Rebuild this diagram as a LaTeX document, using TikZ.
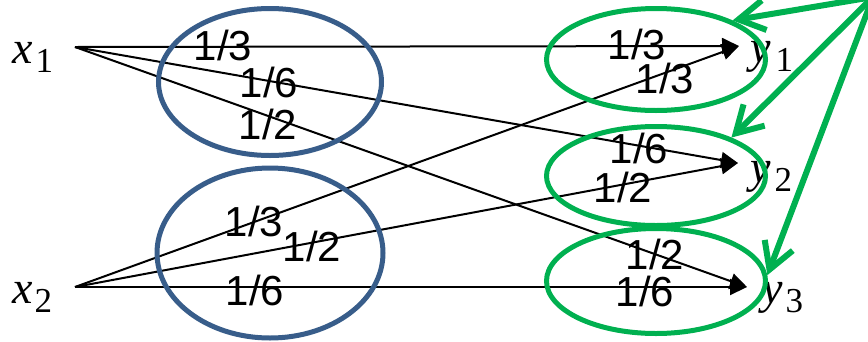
\documentclass[tikz,border=0pt]{standalone}
\usepackage{fontspec}
\setmainfont{Liberation Serif}
\newfontfamily\arialfont{Liberation Sans}
\usepackage{xcolor}
\usetikzlibrary{arrows.meta, shapes.geometric}
\definecolor{setblue}{HTML}{385D8A}
\definecolor{setgreen}{HTML}{00B050}
\newcommand{\symlab}[3]{{\fontsize{46}{46}\selectfont\itshape #1}\kern#3\raisebox{-9.5pt}{\fontsize{35}{35}\selectfont #2}}

\begin{document}
\begin{tikzpicture}[
  x=1pt, y=-1pt,
  wt/.style={font={\arialfont\fontsize{42}{42}\selectfont}, inner sep=0pt},
  sym/.style={inner sep=0pt, anchor=base west},
  edge/.style={-{Triangle[length=17pt,width=16pt]}, line width=2pt},
  grpx/.style={ellipse, draw=setblue, line width=5pt, inner sep=0pt},
  grpy/.style={ellipse, draw=setgreen, line width=5pt, inner sep=0pt},
  garrow/.style={-{Straight Barb[length=26pt,width=30pt]}, line width=6pt, setgreen}
]
\useasboundingbox (0,0) rectangle (868,341);

% 输入、输出符号
\node[sym] (x1) at (12,63) {\symlab{x}{1}{3pt}};
\node[sym] (x2) at (12,303) {\symlab{x}{2}{2pt}};
\node[sym] (y1) at (750,62) {\symlab{y}{1}{5pt}};
\node[sym] (y2) at (750,182) {\symlab{y}{2}{4pt}};
\node[sym] (y3) at (762,303) {\symlab{y}{3}{3pt}};

\coordinate (p1) at (75,47);
\coordinate (p2) at (75,287);
\coordinate (q1) at (739,46);
\coordinate (q2) at (738,163);
\coordinate (q3) at (747,287);

% 转移概率
\draw[edge] (p1) -- (q1);
\draw[edge] (p1) -- (q2);
\draw[edge] (p1) -- (q3);
\draw[edge] (p2) -- (q1);
\draw[edge] (p2) -- (q2);
\draw[edge] (p2) -- (q3);

\node[wt] (a11) at (223,45) {1/3};
\node[wt] (a12) at (269,82) {1/6};
\node[wt] (a13) at (268,124) {1/2};
\node[wt] (a21) at (254,221) {1/3};
\node[wt] (a22) at (312,246) {1/2};
\node[wt] (a23) at (255,290) {1/6};
\node[wt] (b11) at (637,44) {1/3};
\node[wt] (b21) at (665,78) {1/3};
\node[wt] (b12) at (639,148) {1/6};
\node[wt] (b22) at (623,187) {1/2};
\node[wt] (b13) at (655,254) {1/2};
\node[wt] (b23) at (645,291) {1/6};

% 分组
\node[grpx, minimum width=223pt, minimum height=147pt] (gx1) at (270,82) {};
\node[grpx, minimum width=226pt, minimum height=170pt] (gx2) at (270,253) {};
\node[grpy, minimum width=219pt, minimum height=102pt] (gy1) at (656,59.5) {};
\node[grpy, minimum width=219pt, minimum height=99pt] (gy2) at (656,176) {};
\node[grpy, minimum width=219pt, minimum height=105pt] (gy3) at (656,281) {};

\coordinate (src) at (873,-3);
\draw[garrow] (src) -- (gy1.27);
\draw[garrow] (src) -- (gy2.27);
\draw[garrow] (src) -- (gy3.3);
\end{tikzpicture}
\end{document}
